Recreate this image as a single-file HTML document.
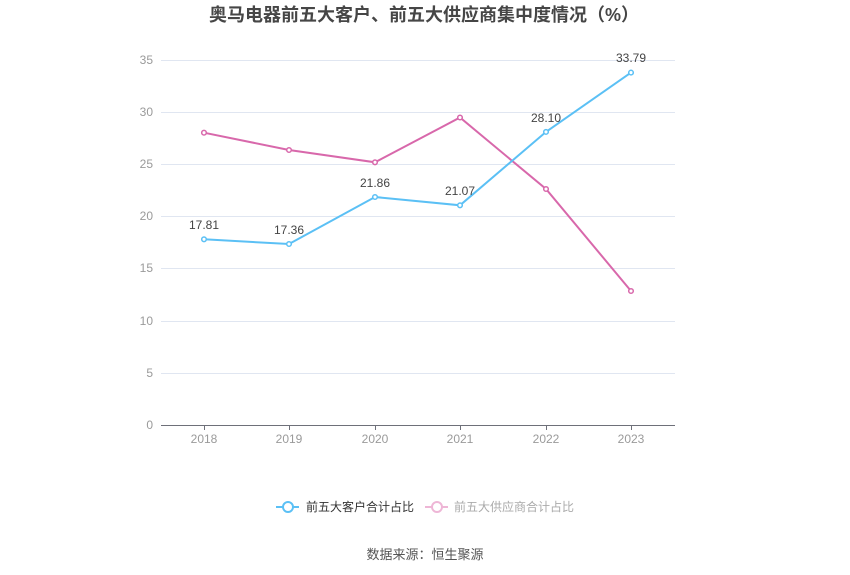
<!DOCTYPE html>
<html><head><meta charset="utf-8"><style>
html,body{margin:0;padding:0;background:#fff;}
svg{display:block;}
text{font-family:"Liberation Sans","Noto Sans CJK SC",sans-serif;}
</style></head><body>
<svg width="850" height="575" viewBox="0 0 850 575" xmlns="http://www.w3.org/2000/svg">
<text x="424" y="21" text-anchor="middle" font-size="18" font-weight="bold" fill="#464646">奥马电器前五大客户、前五大供应商集中度情况（%）</text>
<g stroke="#e0e6f1" stroke-width="1">
<line x1="161" y1="60.5" x2="675" y2="60.5"/>
<line x1="161" y1="112.5" x2="675" y2="112.5"/>
<line x1="161" y1="164.5" x2="675" y2="164.5"/>
<line x1="161" y1="216.5" x2="675" y2="216.5"/>
<line x1="161" y1="268.5" x2="675" y2="268.5"/>
<line x1="161" y1="321.5" x2="675" y2="321.5"/>
<line x1="161" y1="373.5" x2="675" y2="373.5"/>
</g>
<line x1="161" y1="425.5" x2="675" y2="425.5" stroke="#6e7079" stroke-width="1"/>
<g stroke="#6e7079" stroke-width="1">
<line x1="204.5" y1="425" x2="204.5" y2="430"/>
<line x1="289.5" y1="425" x2="289.5" y2="430"/>
<line x1="375.5" y1="425" x2="375.5" y2="430"/>
<line x1="460.5" y1="425" x2="460.5" y2="430"/>
<line x1="546.5" y1="425" x2="546.5" y2="430"/>
<line x1="631.5" y1="425" x2="631.5" y2="430"/>
</g>
<g font-size="12" fill="#9a9a9a" text-anchor="end">
<text x="153" y="64">35</text>
<text x="153" y="116">30</text>
<text x="153" y="168">25</text>
<text x="153" y="220">20</text>
<text x="153" y="272">15</text>
<text x="153" y="325">10</text>
<text x="153" y="377">5</text>
<text x="153" y="429">0</text>
</g>
<g font-size="12" fill="#9a9a9a" text-anchor="middle">
<text x="204" y="443">2018</text>
<text x="289" y="443">2019</text>
<text x="375" y="443">2020</text>
<text x="460" y="443">2021</text>
<text x="546" y="443">2022</text>
<text x="631" y="443">2023</text>
</g>
<polyline fill="none" stroke="#d868ab" stroke-width="2" points="204,132.7 289,150 375,162.3 460,117.5 546,189 631,291"/>
<g fill="#fff" stroke="#d868ab" stroke-width="1.5">
<circle cx="204" cy="132.7" r="2.3"/><circle cx="289" cy="150" r="2.3"/><circle cx="375" cy="162.3" r="2.3"/>
<circle cx="460" cy="117.5" r="2.3"/><circle cx="546" cy="189" r="2.3"/><circle cx="631" cy="291" r="2.3"/>
</g>
<polyline fill="none" stroke="#5bc0f5" stroke-width="2" points="204,239.3 289,244 375,197 460,205.3 546,131.9 631,72.6"/>
<g fill="#fff" stroke="#5bc0f5" stroke-width="1.5">
<circle cx="204" cy="239.3" r="2.3"/><circle cx="289" cy="244" r="2.3"/><circle cx="375" cy="197" r="2.3"/>
<circle cx="460" cy="205.3" r="2.3"/><circle cx="546" cy="131.9" r="2.3"/><circle cx="631" cy="72.6" r="2.3"/>
</g>
<g font-size="12" fill="#444" text-anchor="middle">
<text x="204" y="229">17.81</text>
<text x="289" y="234">17.36</text>
<text x="375" y="187">21.86</text>
<text x="460" y="195">21.07</text>
<text x="546" y="122">28.10</text>
<text x="631" y="62">33.79</text>
</g>
<line x1="276" y1="507" x2="299" y2="507" stroke="#5bc0f5" stroke-width="2"/>
<circle cx="288" cy="507" r="5" fill="#fff" stroke="#5bc0f5" stroke-width="2"/>
<text x="306" y="511" font-size="12" fill="#333">前五大客户合计占比</text>
<line x1="425" y1="507" x2="448" y2="507" stroke="#eeb6d6" stroke-width="2"/>
<circle cx="437" cy="507" r="5" fill="#fff" stroke="#eeb6d6" stroke-width="2"/>
<text x="454" y="511" font-size="12" fill="#aaa">前五大供应商合计占比</text>
<text x="425" y="559" font-size="13" fill="#555" text-anchor="middle">数据来源：恒生聚源</text>
</svg>
</body></html>
